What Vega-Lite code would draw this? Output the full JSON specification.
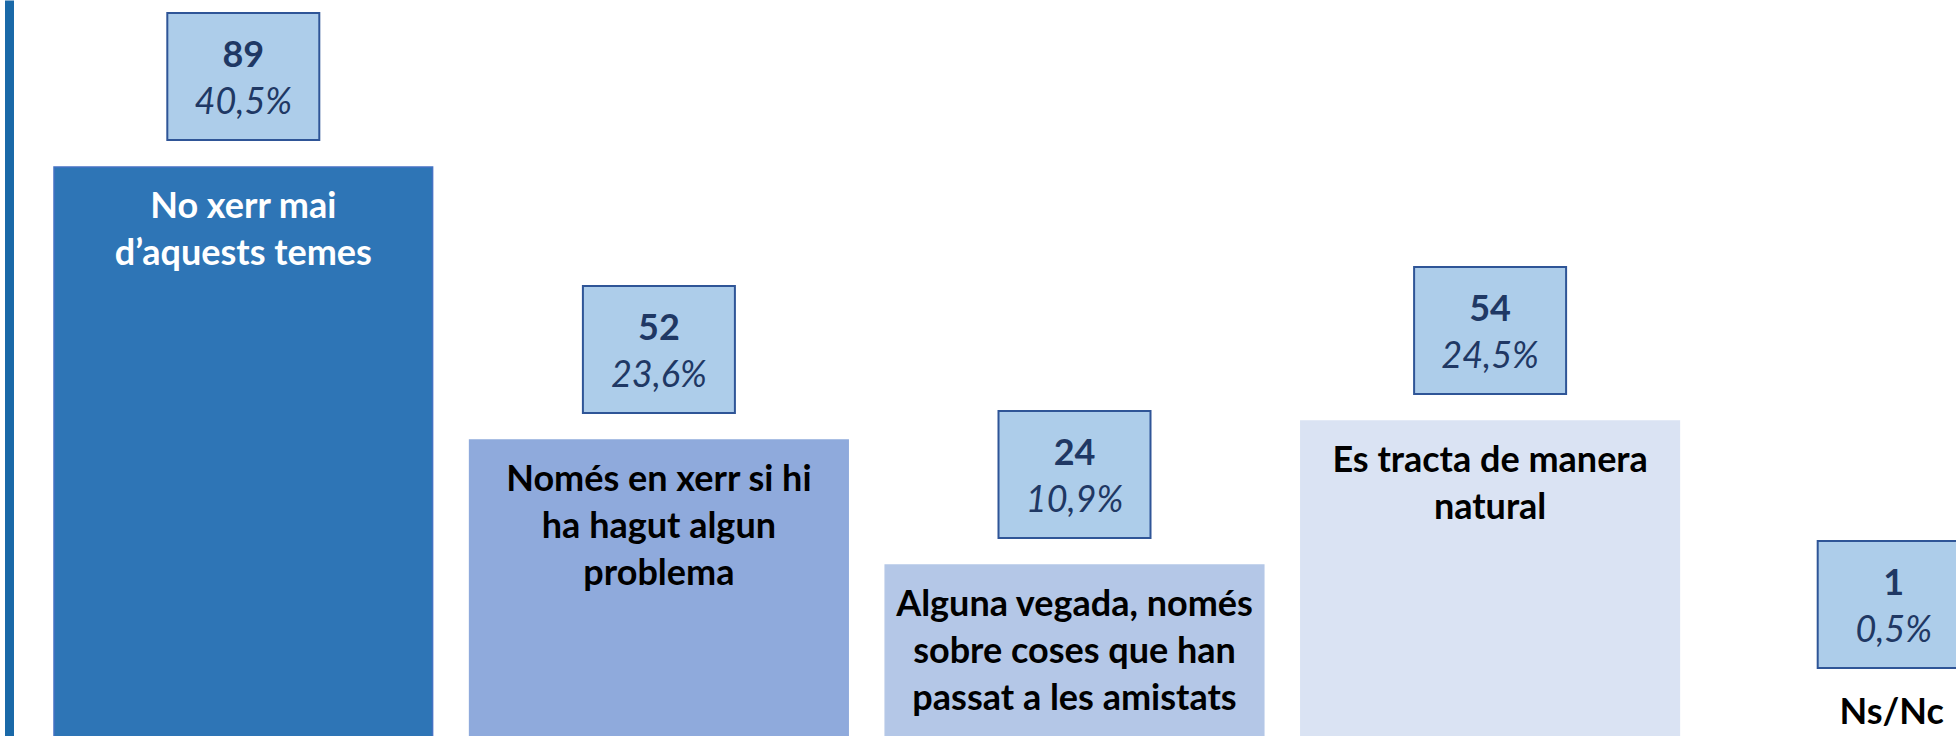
{
  "$schema": "https://vega.github.io/schema/vega-lite/v6.json",
  "width": 1951,
  "height": 736,
  "padding": {"left": 5, "top": 0, "right": 0, "bottom": 0},
  "autosize": {"type": "none"},
  "background": "white",
  "config": {
    "view": {"stroke": null},
    "locale": {"number": {"decimal": ",", "thousands": ".", "grouping": [3], "currency": ["", " €"]}},
    "text": {"font": "Lato"}
  },
  "data": {
    "values": [
      {"cat": "No xerr mai\nd’aquests temes", "n": 89, "pct": 0.405},
      {"cat": "Només en xerr si hi\nha hagut algun\nproblema", "n": 52, "pct": 0.236},
      {"cat": "Alguna vegada, només\nsobre coses que han\npassat a les amistats", "n": 24, "pct": 0.109},
      {"cat": "Es tracta de manera\nnatural", "n": 54, "pct": 0.245},
      {"cat": "Ns/Nc", "n": 1, "pct": 0.005}
    ]
  },
  "encoding": {
    "x": {"field": "cat", "type": "nominal", "sort": null, "axis": null,
      "scale": {"range": [49, 2090], "paddingInner": 0.089, "paddingOuter": 0}},
    "y": {"field": "n", "type": "quantitative",
      "scale": {"domain": [0, 24, 52, 54, 89, 100], "range": [770, 565, 440, 421, 167, 0], "nice": false, "zero": false},
      "axis": {"domain": true, "domainColor": "#1A69A8", "domainWidth": 9, "offset": -4, "ticks": false, "labels": false, "grid": false, "title": null}}
  },
  "layer": [
    {
      "mark": {"type": "bar", "strokeWidth": 1.5},
      "encoding": {
        "color": {"field": "cat", "type": "nominal", "legend": null,
          "scale": {"domain": ["No xerr mai\nd’aquests temes", "Només en xerr si hi\nha hagut algun\nproblema", "Alguna vegada, només\nsobre coses que han\npassat a les amistats", "Es tracta de manera\nnatural", "Ns/Nc"],
            "range": ["#2E75B6", "#8FAADC", "#B4C7E7", "#DAE3F3", "#DEEBF7"]}},
        "stroke": {"field": "cat", "type": "nominal", "legend": null,
          "scale": {"domain": ["No xerr mai\nd’aquests temes", "Només en xerr si hi\nha hagut algun\nproblema", "Alguna vegada, només\nsobre coses que han\npassat a les amistats", "Es tracta de manera\nnatural", "Ns/Nc"],
            "range": ["#4472C4", "#8FAADC", "#B4C7E7", "#DAE3F3", "#DEEBF7"]}}
      }
    },
    {
      "transform": [{"filter": "datum.cat !== 'Ns/Nc'"}],
      "mark": {"type": "point", "shape": "M-1,-0.8355H1V0.8355H-1Z", "size": 23104, "fill": "#ADCDEA", "fillOpacity": 1, "stroke": "#2F5597", "strokeWidth": 2, "opacity": 1, "yOffset": -90.5}
    },
    {
      "transform": [{"filter": "datum.cat !== 'Ns/Nc'"}],
      "mark": {"type": "text", "fontWeight": "bold", "fontSize": 36, "color": "#1F3864", "align": "center", "baseline": "alphabetic", "yOffset": -100.5},
      "encoding": {"text": {"field": "n", "type": "quantitative"}}
    },
    {
      "transform": [{"filter": "datum.cat !== 'Ns/Nc'"}],
      "mark": {"type": "text", "fontStyle": "italic", "fontSize": 36, "color": "#1F3864", "align": "center", "baseline": "alphabetic", "yOffset": -53.5},
      "encoding": {"text": {"field": "pct", "type": "quantitative", "format": ".1%"}}
    },
    {
      "transform": [{"filter": "datum.cat !== 'Ns/Nc'"}],
      "mark": {"type": "text", "fontWeight": "bold", "fontSize": 36, "align": "center", "baseline": "alphabetic", "lineBreak": "\n", "lineHeight": 47, "yOffset": 51},
      "encoding": {
        "text": {"field": "cat", "type": "nominal"},
        "fill": {"field": "cat", "type": "nominal", "legend": null,
          "scale": {"domain": ["No xerr mai\nd’aquests temes", "Només en xerr si hi\nha hagut algun\nproblema", "Alguna vegada, només\nsobre coses que han\npassat a les amistats", "Es tracta de manera\nnatural"],
            "range": ["#FFFFFF", "#000000", "#000000", "#000000"]}}
      }
    },
    {
      "transform": [{"filter": "datum.cat === 'Ns/Nc'"}],
      "mark": {"type": "point", "shape": "M-1,-0.8355H1V0.8355H-1Z", "size": 23104, "fill": "#ADCDEA", "fillOpacity": 1, "stroke": "#2F5597", "strokeWidth": 2, "opacity": 1, "yOffset": -157, "xOffset": -12}
    },
    {
      "transform": [{"filter": "datum.cat === 'Ns/Nc'"}],
      "mark": {"type": "text", "fontWeight": "bold", "fontSize": 36, "color": "#1F3864", "align": "center", "baseline": "alphabetic", "yOffset": -166.5, "xOffset": -12},
      "encoding": {"text": {"field": "n", "type": "quantitative"}}
    },
    {
      "transform": [{"filter": "datum.cat === 'Ns/Nc'"}],
      "mark": {"type": "text", "fontStyle": "italic", "fontSize": 36, "color": "#1F3864", "align": "center", "baseline": "alphabetic", "yOffset": -119.5, "xOffset": -12},
      "encoding": {"text": {"field": "pct", "type": "quantitative", "format": ".1%"}}
    },
    {
      "transform": [{"filter": "datum.cat === 'Ns/Nc'"}],
      "mark": {"type": "text", "fontWeight": "bold", "fontSize": 36, "color": "#000000", "align": "center", "baseline": "alphabetic", "yOffset": -37, "xOffset": -14},
      "encoding": {"text": {"field": "cat", "type": "nominal"}}
    }
  ]
}
